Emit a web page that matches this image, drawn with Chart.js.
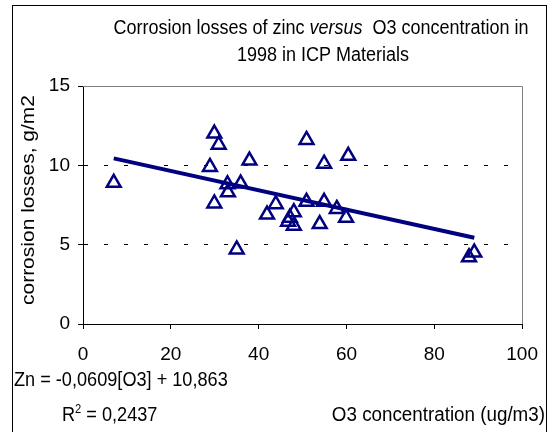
<!DOCTYPE html>
<html>
<head>
<meta charset="utf-8">
<script src="https://cdn.jsdelivr.net/npm/chart.js@4.4.0/dist/chart.umd.min.js"></script>
<style>
  html, body { margin: 0; padding: 0; background: #fff; }
  canvas { display: block; }
</style>
</head>
<body>
<canvas id="chart" width="552" height="432"></canvas>
<script>
// O3 concentration (ug/m3) per site and the zinc corrosion loss (g/m2) measured there
const o3Values = [7.0, 28.9, 29.9, 29.9, 30.9, 32.9, 33.0, 35.0, 35.9, 37.9, 41.9, 43.9, 46.7,
                  47.1, 48.0, 48.0, 50.9, 50.9, 53.9, 54.9, 54.9, 57.8, 59.9, 60.4, 87.9, 89.1];
const zincLosses = [8.9, 9.9, 12.0, 7.6, 11.3, 8.8, 8.3, 4.7, 8.85, 10.3, 6.9, 7.55, 6.45,
                    6.7, 7.05, 6.2, 7.7, 11.6, 6.3, 10.1, 7.7, 7.25, 6.7, 10.6, 4.2, 4.5];

// fitted line as printed under the plot: Zn = -0,0609[O3] + 10,863
const trendSlope = -0.0609;
const trendIntercept = 10.863;
const rSquared = 0.2437;

const xTicks = [0, 20, 40, 60, 80, 100];
const yTicks = [0, 5, 10, 15];

const FONT = '"Liberation Sans", Arial, Helvetica, sans-serif';
const NAVY = '#000080';

const points = o3Values.map((x, i) => ({ x: x, y: zincLosses[i] }));
const xFrom = Math.min(...o3Values);
const xTo = Math.max(...o3Values);
const trendPoints = [
    { x: xFrom, y: trendSlope * xFrom + trendIntercept },
    { x: xTo, y: trendSlope * xTo + trendIntercept }
];

const comma = v => String(v).replace('.', ',');

// draws a row of text pieces (normal / italic / superscript), squeezed horizontally by sx
function drawRuns(ctx, runs, x, y, size, sx, align) {
    ctx.save();
    ctx.fillStyle = '#000';
    ctx.textBaseline = 'alphabetic';
    ctx.textAlign = 'left';
    const fontFor = r => (r.italic ? 'italic ' : '') + (r.sup ? Math.round(size * 0.62) : size) + 'px ' + FONT;
    let total = 0;
    runs.forEach(r => {
        ctx.font = fontFor(r);
        r.w = ctx.measureText(r.text).width;
        total += r.w;
    });
    let pos = align === 'center' ? -total / 2 : align === 'right' ? -total : 0;
    ctx.translate(x, y);
    ctx.scale(sx, 1);
    runs.forEach(r => {
        ctx.font = fontFor(r);
        ctx.fillText(r.text, pos, r.sup ? -size * 0.42 : 0);
        pos += r.w;
    });
    ctx.restore();
}

const decorations = {
    id: 'decorations',
    afterDraw(chart) {
        const ctx = chart.ctx;
        const area = chart.chartArea;

        // outer frame (runs off the bottom edge)
        ctx.save();
        ctx.strokeStyle = '#000';
        ctx.lineWidth = 1;
        ctx.strokeRect(12.5, 5.5, 534, 460);

        // grey plot-area border on top and right
        ctx.strokeStyle = '#808080';
        ctx.beginPath();
        ctx.moveTo(area.left, Math.round(area.top) + 0.5);
        ctx.lineTo(Math.round(area.right) + 0.5, Math.round(area.top) + 0.5);
        ctx.lineTo(Math.round(area.right) + 0.5, area.bottom);
        ctx.stroke();
        ctx.restore();

        // title
        drawRuns(ctx, [
            { text: 'Corrosion losses of zinc ' },
            { text: 'versus', italic: true },
            { text: '  O3 concentration in' }
        ], 321, 34, 20, 0.9, 'center');
        drawRuns(ctx, [{ text: '1998 in ICP Materials' }], 323, 61, 20, 0.9, 'center');

        // y axis title
        ctx.save();
        ctx.translate(34, 200);
        ctx.rotate(-Math.PI / 2);
        ctx.scale(1, 0.9);
        ctx.fillStyle = '#000';
        ctx.font = '21px ' + FONT;
        ctx.textAlign = 'center';
        ctx.textBaseline = 'alphabetic';
        ctx.fillText('corrosion losses, g/m2', 0, 0);
        ctx.restore();

        // regression equation and x axis title
        drawRuns(ctx, [{ text: 'Zn = ' + comma(trendSlope) + '[O3] + ' + comma(trendIntercept) }],
            14, 386, 19.5, 0.93, 'left');
        drawRuns(ctx, [
            { text: 'R' },
            { text: '2', sup: true },
            { text: ' = ' + comma(rSquared) }
        ], 62, 421, 19.5, 0.93, 'left');
        drawRuns(ctx, [{ text: 'O3 concentration (ug/m3)' }], 545, 421, 20, 0.94, 'right');
    }
};

new Chart(document.getElementById('chart'), {
    type: 'scatter',
    data: {
        datasets: [
            {
                label: 'trend',
                data: trendPoints,
                showLine: true,
                borderColor: NAVY,
                borderWidth: 4,
                pointRadius: 0,
                fill: false
            },
            {
                label: 'Zn',
                data: points,
                pointStyle: 'triangle',
                pointRadius: 8,
                borderWidth: 2.5,
                borderColor: NAVY,
                backgroundColor: 'rgba(0,0,0,0)'
            }
        ]
    },
    options: {
        responsive: false,
        animation: false,
        devicePixelRatio: 1,
        layout: { padding: { left: 0, top: 86, right: 24, bottom: 0 } },
        plugins: {
            legend: { display: false },
            tooltip: { enabled: false },
            title: { display: false }
        },
        scales: {
            x: {
                type: 'linear',
                min: xTicks[0],
                max: xTicks[xTicks.length - 1],
                afterFit: scale => { scale.height = 108; },
                ticks: {
                    stepSize: xTicks[1] - xTicks[0],
                    color: '#000',
                    font: { family: FONT, size: 19 },
                    padding: 14,
                    maxRotation: 0
                },
                grid: {
                    drawOnChartArea: false,
                    tickLength: 5,
                    tickColor: '#000'
                },
                border: { color: '#000', width: 1 }
            },
            y: {
                type: 'linear',
                min: yTicks[0],
                max: yTicks[yTicks.length - 1],
                afterFit: scale => { scale.width = 83; },
                ticks: {
                    stepSize: yTicks[1] - yTicks[0],
                    color: '#000',
                    font: { family: FONT, size: 19 },
                    padding: 8
                },
                grid: {
                    color: c => (c.tick && (c.tick.value === 5 || c.tick.value === 10)) ? '#000' : 'rgba(0,0,0,0)',
                    tickBorderDash: [],
                    tickLength: 5,
                    tickColor: '#000'
                },
                border: { color: '#000', width: 1, dash: [4, 16] }
            }
        }
    },
    plugins: [decorations]
});
</script>
</body>
</html>
